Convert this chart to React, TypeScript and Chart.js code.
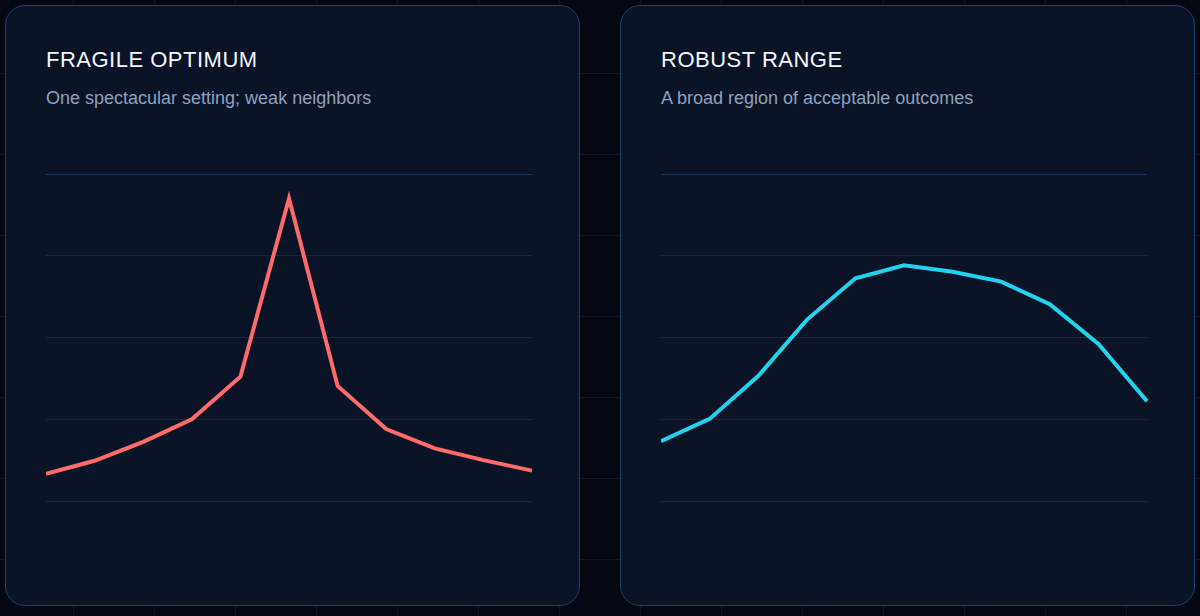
import { useEffect, useRef } from "react"
import Chart from "chart.js/auto"

// settings along the x axis (unlabeled in the picture)
const settings = ["1", "2", "3", "4", "5", "6", "7", "8", "9", "10", "11"]

// score per setting, 0..100
const fragileScores = [8.3, 12.3, 18.1, 25, 38, 92.5, 35.2, 22, 16.1, 12.5, 9.3]
const robustScores = [18.3, 25.1, 38.2, 55.4, 68.1, 72.1, 70.1, 67.1, 60.2, 48, 30.5]

const yMin = 0
const yMax = 100
const yStep = 25

interface PanelProps {
  title: string
  subtitle: string
  values: number[]
  color: string
}

function Panel({ title, subtitle, values, color }: PanelProps) {
  const canvasRef = useRef<HTMLCanvasElement>(null)
  const chartRef = useRef<Chart | null>(null)

  useEffect(() => {
    if (!canvasRef.current) return
    if (chartRef.current) chartRef.current.destroy()

    chartRef.current = new Chart(canvasRef.current, {
      type: "line",
      data: {
        labels: settings,
        datasets: [
          {
            data: values,
            borderColor: color,
            borderWidth: 4,
            pointRadius: 0,
            pointHoverRadius: 0,
            tension: 0,
            fill: false,
          },
        ],
      },
      options: {
        animation: false,
        responsive: true,
        maintainAspectRatio: false,
        layout: { padding: { top: 40, bottom: 64, left: 0, right: 7 } },
        plugins: {
          legend: { display: false },
          tooltip: { enabled: false },
        },
        scales: {
          x: { display: false },
          y: {
            min: yMin,
            max: yMax,
            border: { display: false },
            ticks: { display: false, stepSize: yStep },
            grid: {
              drawTicks: false,
              lineWidth: 1,
              color: (ctx: any) => (ctx.tick && ctx.tick.value === yMax ? "#1e3759" : "#152840"),
            },
          },
        },
      },
    })

    return () => {
      if (chartRef.current) {
        chartRef.current.destroy()
        chartRef.current = null
      }
    }
  }, [values, color])

  return (
    <div
      style={{
        flex: 1,
        height: 601,
        boxSizing: "border-box",
        border: "1px solid #223f66",
        borderRadius: 20,
        background: "#0b1326",
        padding: "41px 40px 40px 40px",
        position: "relative",
      }}
    >
      <div
        style={{
          fontSize: 22,
          lineHeight: "26px",
          letterSpacing: 0.5,
          color: "#f4f7fb",
          fontWeight: 400,
        }}
      >
        {title}
      </div>
      <div style={{ marginTop: 14, fontSize: 18, lineHeight: "22px", color: "#8fa2bf" }}>{subtitle}</div>
      <div style={{ position: "absolute", left: 40, right: 40, top: 128, height: 431 }}>
        <canvas ref={canvasRef} />
      </div>
    </div>
  )
}

export default function App() {
  return (
    <div
      style={{
        position: "fixed",
        inset: 0,
        boxSizing: "border-box",
        padding: 5,
        display: "flex",
        gap: 40,
        fontFamily: '"Liberation Sans", Arial, Helvetica, sans-serif',
        backgroundColor: "#040812",
        backgroundImage:
          "linear-gradient(to right, #0d1726 1px, transparent 1px), linear-gradient(to bottom, #0d1726 1px, transparent 1px)",
        backgroundSize: "81px 81px",
        backgroundPosition: "73px 73px",
      }}
    >
      <Panel
        title="FRAGILE OPTIMUM"
        subtitle="One spectacular setting; weak neighbors"
        values={fragileScores}
        color="#ff6b6b"
      />
      <Panel
        title="ROBUST RANGE"
        subtitle="A broad region of acceptable outcomes"
        values={robustScores}
        color="#22d3ee"
      />
    </div>
  )
}
